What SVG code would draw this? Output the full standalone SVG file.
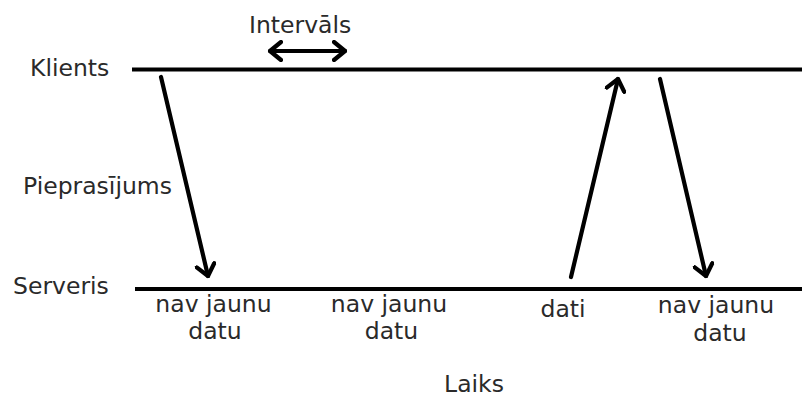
<svg xmlns="http://www.w3.org/2000/svg" width="802" height="398" viewBox="0 0 802 398">
<style>
text{font-family:"DejaVu Sans","Liberation Sans",sans-serif;font-size:23.5px;fill:#2a2a2a}
.m{text-anchor:middle}
.ln{stroke:#000;stroke-width:4;fill:none}
.ar{stroke:#000;stroke-width:4.2;fill:none;stroke-linecap:round}
</style>
<defs>
<marker id="h" viewBox="-13 -11 15 22" refX="0" refY="0" markerWidth="15" markerHeight="22" markerUnits="userSpaceOnUse" orient="auto-start-reverse">
<path d="M-11,-9 L0,0 L-11,9" fill="none" stroke="#000" stroke-width="4.2" stroke-linecap="round" stroke-linejoin="round"/>
</marker>
</defs>
<g id="klients">
<line class="ln" x1="132" y1="69.5" x2="802" y2="69.5"/>
<text x="30" y="76">Klients</text>
</g>
<g id="serveris">
<line class="ln" x1="135" y1="289" x2="802" y2="289"/>
<text x="13" y="294">Serveris</text>
</g>
<g id="intervals">
<text x="249" y="33">Intervāls</text>
</g>
<g id="pieprasijums">
<text x="23" y="194">Pieprasījums</text>
</g>
<g id="labels">
<text class="m" x="213.5" y="312">nav jaunu</text>
<text class="m" x="215" y="339">datu</text>
<text class="m" x="389" y="312">nav jaunu</text>
<text class="m" x="391.5" y="339">datu</text>
<text class="m" x="563" y="317">dati</text>
<text class="m" x="716" y="313">nav jaunu</text>
<text class="m" x="720" y="341">datu</text>
<text class="m" x="474" y="392">Laiks</text>
</g>
<g id="connectors">
<line class="ar" x1="270" y1="51" x2="345" y2="51" marker-start="url(#h)" marker-end="url(#h)"/>
<line class="ar" x1="161" y1="77" x2="208" y2="276" marker-end="url(#h)"/>
<line class="ar" x1="571" y1="277" x2="618" y2="79" marker-end="url(#h)"/>
<line class="ar" x1="660" y1="79" x2="706" y2="276" marker-end="url(#h)"/>
</g>
</svg>
